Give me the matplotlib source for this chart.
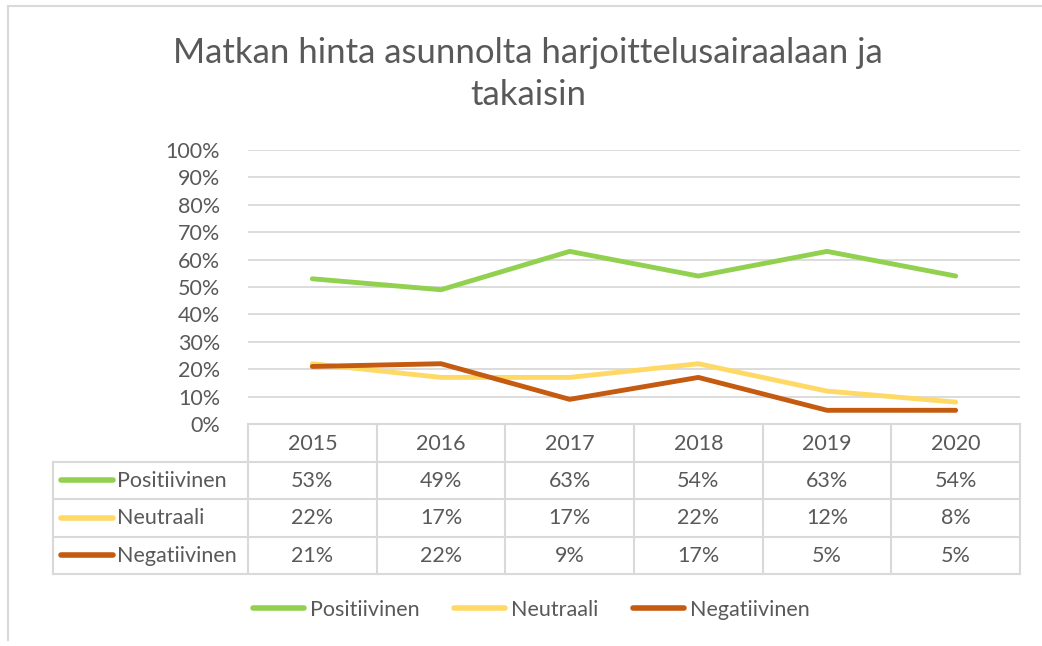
import numpy as np
import matplotlib
matplotlib.use("Agg")
import matplotlib.pyplot as plt
from matplotlib.lines import Line2D

plt.rcParams['font.family'] = ['Lato', 'DejaVu Sans']

# data
years = ['2015', '2016', '2017', '2018', '2019', '2020']
series_names = ['Positiivinen', 'Neutraali', 'Negatiivinen']
positiivinen = [53, 49, 63, 54, 63, 54]
neutraali = [22, 17, 17, 22, 12, 8]
negatiivinen = [21, 22, 9, 17, 5, 5]
colors = ['#92D050', '#FFD966', '#C55A11']
title = 'Matkan hinta asunnolta harjoittelusairaalaan ja\ntakaisin'

TXT = '#595959'
GRID = '#D9D9D9'
W, H = 1042, 646
FS = 15.5

fig = plt.figure(figsize=(W / 100, H / 100), dpi=100)

def px(x0, y0, x1, y1):
    # pixel box -> figure fraction rect
    return [x0 / W, 1 - y1 / H, (x1 - x0) / W, (y1 - y0) / H]

# outer chart frame (only top and left visible in the crop)
fig.add_artist(Line2D([8 / W, 8 / W], [1 - 640 / H, 1 - 6 / H], color=GRID, lw=1.5))
fig.add_artist(Line2D([8 / W, 1.0], [1 - 6 / H, 1 - 6 / H], color=GRID, lw=1.5))

fig.text(528 / W, 1 - 74 / H, title, ha='center', va='center', fontsize=25,
         color=TXT, linespacing=1.4)

ax = fig.add_axes(px(248, 150, 1020, 424))
x = np.arange(len(years))
all_series = [positiivinen, neutraali, negatiivinen]
for vals, c, name in zip(all_series, colors, series_names):
    ax.plot(x, np.array(vals) / 100, color=c, lw=3.5, solid_capstyle='round',
            label=name)
ax.set_xlim(-0.5, len(years) - 0.5)
ax.set_ylim(0, 1.0)
ax.set_yticks(np.arange(0, 1.01, 0.1))
ax.set_yticklabels([f'{int(round(v * 100))}%' for v in np.arange(0, 1.01, 0.1)])
ax.set_xticks([])
ax.grid(axis='y', color=GRID, lw=1.3)
ax.set_axisbelow(True)
for s in ['top', 'right', 'left']:
    ax.spines[s].set_visible(False)
ax.spines['bottom'].set_color(GRID)
ax.spines['bottom'].set_linewidth(1.5)
ax.tick_params(axis='y', length=0, labelsize=FS, labelcolor=TXT, pad=20)

# data table under the plot
left_px = 53
cat_w = 772 / len(years)
tax = fig.add_axes(px(left_px, 424, 1020, 574))
xl = -0.5 - (248 - left_px) / cat_w
tax.set_xlim(xl, len(years) - 0.5)
tax.set_ylim(len(series_names) + 1, 0)
tax.axis('off')
lk = dict(color=GRID, lw=1.5, clip_on=False)
for r in range(1, len(series_names) + 2):
    tax.plot([xl, len(years) - 0.5], [r, r], **lk)
tax.plot([xl, xl], [1, len(series_names) + 1], **lk)
for k in range(len(years) + 1):
    tax.plot([k - 0.5, k - 0.5], [0, len(series_names) + 1], **lk)
for i, yr in enumerate(years):
    tax.text(i, 0.52, yr, ha='center', va='center', fontsize=FS, color=TXT)
for r, (vals, c, name) in enumerate(zip(all_series, colors, series_names)):
    yy = r + 1.5
    tax.plot([xl + 0.06, xl + 0.47], [yy, yy], color=c, lw=4, solid_capstyle='round')
    tax.text(xl + 0.5, yy + 0.02, name, ha='left', va='center', fontsize=FS, color=TXT)
    for i, v in enumerate(vals):
        tax.text(i, yy + 0.02, f'{v}%', ha='center', va='center', fontsize=FS, color=TXT)

handles = [Line2D([], [], color=c, lw=4, solid_capstyle='round') for c in colors]
fig.legend(handles, series_names, loc='center', bbox_to_anchor=(531 / W, 1 - 610 / H),
           ncol=3, frameon=False, fontsize=FS, labelcolor=TXT, handlelength=2.4,
           handletextpad=0.25, columnspacing=1.6)

fig.savefig('out.png', dpi=100, facecolor='white')
